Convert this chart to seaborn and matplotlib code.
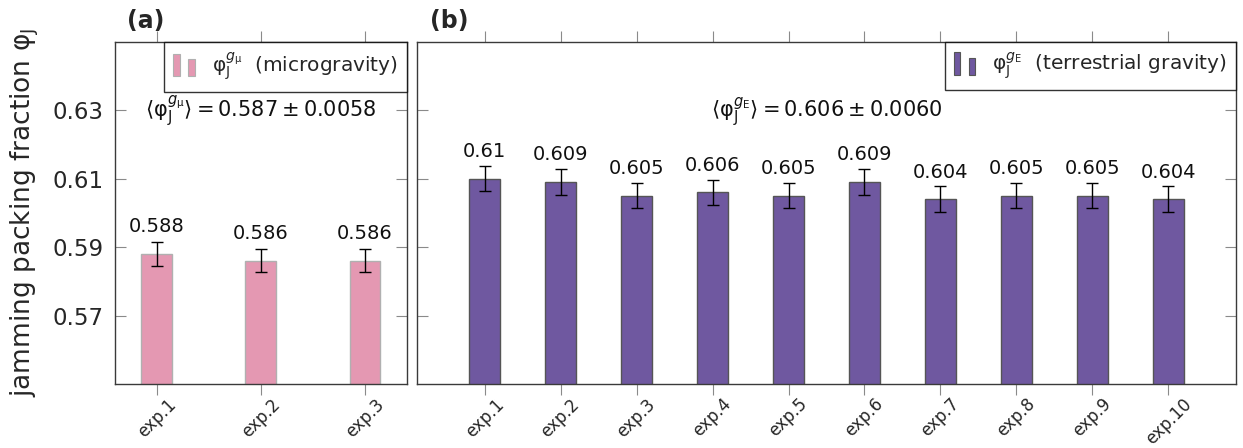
import numpy as np
import pandas as pd
import matplotlib
matplotlib.use("Agg")
import matplotlib.pyplot as plt
import matplotlib.transforms as mtransforms
from matplotlib.patches import Rectangle
from matplotlib.legend_handler import HandlerBase
import seaborn as sns

# ---------------- data ----------------
micro_labels = ["exp.1", "exp.2", "exp.3"]
micro_values = [0.588, 0.586, 0.586]
micro_errors = [0.0034, 0.0034, 0.0034]

terr_labels = ["exp.1", "exp.2", "exp.3", "exp.4", "exp.5",
               "exp.6", "exp.7", "exp.8", "exp.9", "exp.10"]
terr_values = [0.610, 0.609, 0.605, 0.606, 0.605, 0.609, 0.604, 0.605, 0.605, 0.604]
terr_errors = [0.0037] * 10

y_ticks = [0.57, 0.59, 0.61, 0.63]
y_limits = (0.55, 0.65)

PHI = r"\mathrm{\varphi}"
micro_mean_text = r"$\langle" + PHI + r"_{\mathrm{J}}^{g_{\mathrm{\mu}}}\rangle = 0.587 \pm 0.0058$"
terr_mean_text = r"$\langle" + PHI + r"_{\mathrm{J}}^{g_{\mathrm{E}}}\rangle = 0.606 \pm 0.0060$"
micro_legend = r"$" + PHI + r"_{\mathrm{J}}^{g_{\mathrm{\mu}}}$  (microgravity)"
terr_legend = r"$" + PHI + r"_{\mathrm{J}}^{g_{\mathrm{E}}}$  (terrestrial gravity)"
y_label = r"jamming packing fraction $" + PHI + r"_{\mathrm{J}}$"

PINK = "#E498B2"
PINK_EDGE = "#b0b0b0"
PURPLE = "#6F58A0"
PURPLE_EDGE = "#555555"

# ---------------- style ----------------
sns.set_theme(style="white")
plt.rcParams["font.family"] = ["DejaVu Sans"]
plt.rcParams["mathtext.fontset"] = "dejavusans"
plt.rcParams["axes.edgecolor"] = "#3a3a3a"
plt.rcParams["axes.linewidth"] = 1.0


class TwoBarHandler(HandlerBase):
    def create_artists(self, legend, orig_handle, xdescent, ydescent,
                       width, height, fontsize, trans):
        fc = orig_handle.get_facecolor()
        ec = orig_handle.get_edgecolor()
        x0, y0 = -xdescent, -ydescent - 0.3 * height
        bw = width * 0.27
        r1 = Rectangle((x0, y0), bw, height * 1.6, facecolor=fc,
                       edgecolor=ec, lw=0.8, transform=trans)
        r2 = Rectangle((x0 + width * 0.62, y0), bw, height * 1.2, facecolor=fc,
                       edgecolor=ec, lw=0.8, transform=trans)
        return [r1, r2]


W, H = 1243, 448
fig = plt.figure(figsize=(W / 100, H / 100), dpi=100)
bottom_px, top_px = 384, 41.7
ax_a = fig.add_axes([115 / W, (H - bottom_px) / H, (406.7 - 115) / W, (bottom_px - top_px) / H])
ax_b = fig.add_axes([417 / W, (H - bottom_px) / H, (1236 - 417) / W, (bottom_px - top_px) / H])


def draw_panel(ax, labels, values, errors, color, edge, width, xlim,
               mean_text, legend_text, show_ylabels):
    df = pd.DataFrame({"exp": labels, "phi": values})
    sns.barplot(data=df, x="exp", y="phi", order=labels, color=color,
                saturation=1, edgecolor=edge, linewidth=1.0, width=width, ax=ax)
    xs = np.arange(len(labels))
    ax.errorbar(xs, values, yerr=errors, fmt="none", ecolor="black",
                elinewidth=1.0, capsize=4, capthick=1.0, zorder=5)
    for x, v in zip(xs, values):
        ax.annotate(f"{v:g}", (x, v), xytext=(0, 19.5), textcoords="offset points",
                    ha="center", va="center", fontsize=14, color="#111111")
    ax.set_xlim(*xlim)
    ax.set_ylim(*y_limits)
    ax.set_yticks(y_ticks)
    ax.set_xlabel("")
    ax.set_ylabel("")
    ax.tick_params(axis="x", which="both", direction="out", length=8, width=0.8,
                   color="#8a8a8a", top=True, bottom=True, labeltop=False, pad=0)
    ax.tick_params(axis="y", which="both", direction="in", length=8, width=0.8,
                   color="#8a8a8a", left=True, right=True, labelright=False,
                   labelleft=show_ylabels, labelsize=16.5, pad=8.5)
    ax.set_xticks(xs)
    ax.set_xticklabels(labels, rotation=45, ha="center", va="top", fontsize=12)
    ax.set_yticklabels([f"{t:.2f}" for t in y_ticks] if show_ylabels else [])
    ax.text(0.5, 0.6295, mean_text,
            transform=mtransforms.blended_transform_factory(ax.transAxes, ax.transData),
            ha="center", va="center", fontsize=15, color="#111111")
    handle = Rectangle((0, 0), 1, 1, facecolor=color, edgecolor=edge)
    leg = ax.legend([handle], [legend_text], loc="upper right", borderaxespad=0,
                    handler_map={Rectangle: TwoBarHandler()}, fontsize=14.5,
                    frameon=True, fancybox=False, handlelength=1.2,
                    handletextpad=0.7, borderpad=0.45)
    leg.get_frame().set_edgecolor("black")
    leg.get_frame().set_linewidth(1.0)
    for sp in ax.spines.values():
        sp.set_visible(True)


draw_panel(ax_a, micro_labels, micro_values, micro_errors, PINK, PINK_EDGE, 0.295,
           (-0.4, 2.4), micro_mean_text, micro_legend, True)
draw_panel(ax_b, terr_labels, terr_values, terr_errors, PURPLE, PURPLE_EDGE, 0.40,
           (-0.89, 9.89), terr_mean_text, terr_legend, False)

ax_a.set_ylabel(y_label, fontsize=19, labelpad=8)

fig.text(127 / W, 1 - 21 / H, "(a)", fontsize=17, fontweight="bold", ha="left", va="center")
fig.text(430 / W, 1 - 21 / H, "(b)", fontsize=17, fontweight="bold", ha="left", va="center")

fig.savefig("out.png", dpi=100)
